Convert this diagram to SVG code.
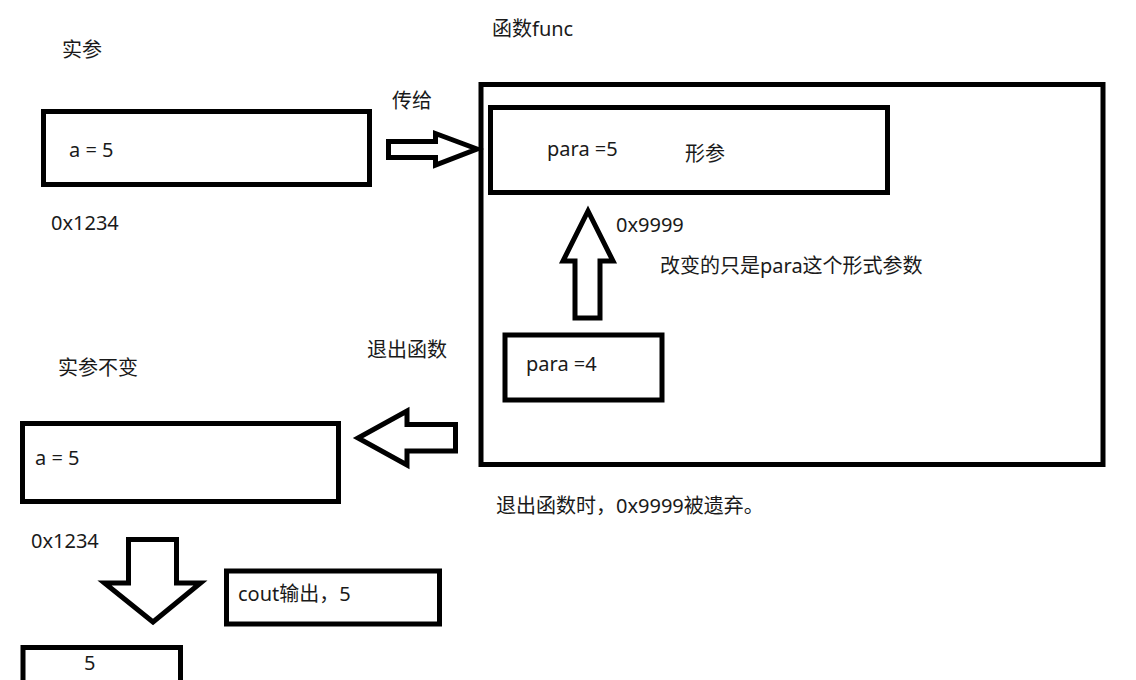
<svg xmlns="http://www.w3.org/2000/svg" width="1136" height="680" viewBox="0 0 1136 680">
<style>
.box{fill:none;stroke:#000;stroke-width:5}
.arr{fill:#fff;stroke:#000;stroke-width:5;stroke-linejoin:miter}
text{font-family:"Noto Sans","Noto Sans CJK SC",sans-serif;font-size:20px;fill:#1a1a1a}
</style>
<rect width="1136" height="680" fill="#fff"/>
<g id="func-box">
<rect class="box" x="481" y="84.5" width="622" height="380"/>
<text x="492" y="36">函数func</text>
</g>
<g id="actual-a">
<rect class="box" x="43.5" y="111.5" width="326" height="73"/>
<text x="69" y="157">a = 5</text>
<text x="62" y="57">实参</text>
<text x="51" y="230">0x1234</text>
</g>
<g id="param-5">
<rect class="box" x="490.5" y="107.5" width="397" height="85"/>
<text x="547" y="156">para =5</text>
<text x="685" y="161">形参</text>
</g>
<g id="param-4">
<rect class="box" x="505" y="335" width="157" height="65"/>
<text x="526" y="371">para =4</text>
</g>
<g id="actual-a-after">
<rect class="box" x="22.5" y="423.5" width="316" height="78"/>
<text x="35" y="465">a = 5</text>
<text x="58" y="375">实参不变</text>
<text x="31" y="548">0x1234</text>
</g>
<g id="cout-box">
<rect class="box" x="226.5" y="571" width="213" height="53"/>
<text x="238" y="601">cout输出，5</text>
</g>
<g id="output-5">
<rect class="box" x="23" y="647.5" width="157.5" height="60"/>
<text x="84" y="670">5</text>
</g>
<g id="connectors">
<polygon class="arr" points="388.5,141.5 435.5,141.5 435.5,133.5 477,149 435.5,165 435.5,157.5 388.5,157.5"/>
<text x="392" y="108">传给</text>
<polygon class="arr" points="588,211 613,261 600,261 600,318 575,318 575,261 563,261"/>
<text x="616" y="232">0x9999</text>
<text x="660" y="273">改变的只是para这个形式参数</text>
<polygon class="arr" points="455.5,424.5 407,424.5 407,411 358,438 407,465 407,451 455.5,451"/>
<text x="367" y="357">退出函数</text>
<text x="496" y="513">退出函数时，0x9999被遗弃。</text>
<polygon class="arr" points="128.5,539.5 176.5,539.5 176.5,583 200.5,583 153,622 104.5,583 128.5,583"/>
</g>
</svg>
